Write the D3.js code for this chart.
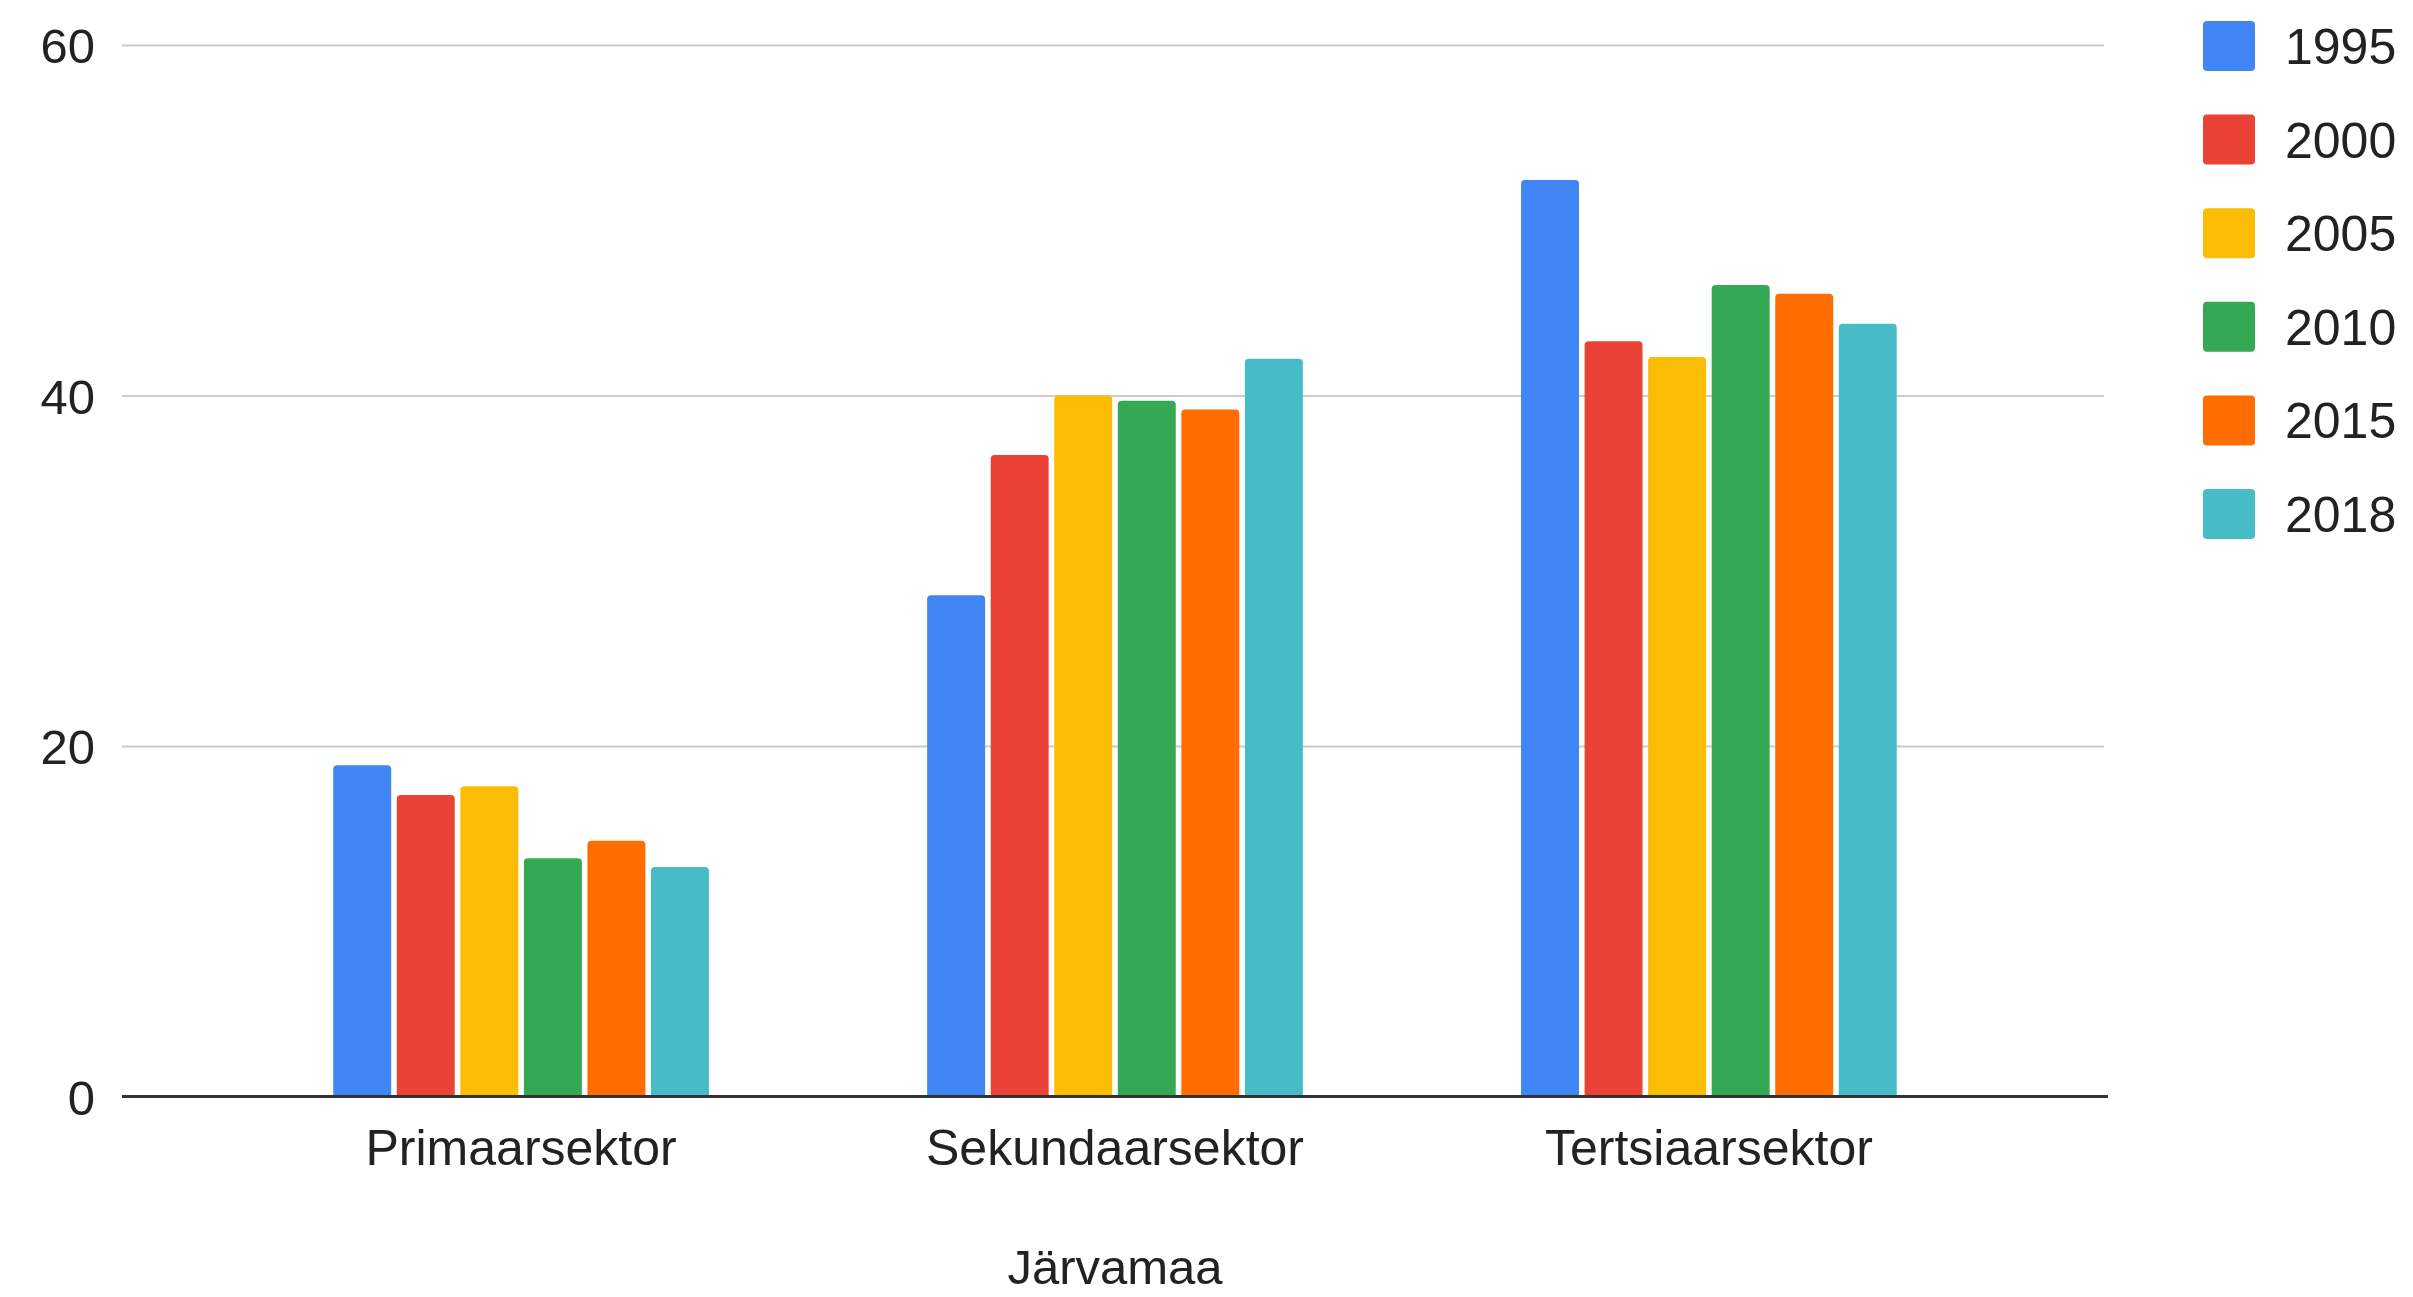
<!DOCTYPE html>
<html>
<head>
<meta charset="utf-8">
<script src="https://cdn.jsdelivr.net/npm/d3@7"></script>
<style>
  html, body { margin: 0; padding: 0; background: #fff; }
  svg { display: block; }
  text { font-family: "Liberation Sans", Arial, sans-serif; fill: #222; }
</style>
</head>
<body>
<svg id="chart"></svg>
<script>
// data
const sectors = ["Primaarsektor", "Sekundaarsektor", "Tertsiaarsektor"]
const years = ["1995", "2000", "2005", "2010", "2015", "2018"]
const v1995 = [18.9, 28.6, 52.3]
const v2000 = [17.2, 36.6, 43.1]
const v2005 = [17.7, 40.0, 42.2]
const v2010 = [13.6, 39.7, 46.3]
const v2015 = [14.6, 39.2, 45.8]
const v2018 = [13.1, 42.1, 44.1]
const yTicks = [0, 20, 40, 60]
const colors = ["#4285f4", "#ea4335", "#fbbc04", "#34a853", "#ff6d01", "#46bdc6"]
const axisTitle = "Järvamaa"

const series = [v1995, v2000, v2005, v2010, v2015, v2018]
const rows = []
sectors.forEach((s, i) => {
    years.forEach((yr, j) => rows.push({ sector: s, year: yr, value: series[j][i] }))
})

const width = 2413
const height = 1297
const margin = { left: 122, right: 305, top: 45, bottom: 200 }

const svg = d3.select("#chart")
    .attr("width", width)
    .attr("height", height)

const x0 = d3.scaleBand()
    .domain(sectors)
    .range([margin.left, width - margin.right])
    .paddingInner(0.358)
    .paddingOuter(0.351)

const x1 = d3.scaleBand()
    .domain(years)
    .range([0, x0.bandwidth()])
    .paddingInner(0.088)
    .paddingOuter(0.044)

const y = d3.scaleLinear()
    .domain([0, 60])
    .range([height - margin.bottom - 0.5, margin.top])

const color = d3.scaleOrdinal().domain(years).range(colors)

// gridlines + y labels
const yAxis = svg.append("g")
    .attr("transform", `translate(${margin.left},0)`)
    .call(d3.axisLeft(y).tickValues(yTicks).tickSize(-(width - margin.right - margin.left - 4)).tickPadding(27))
yAxis.select(".domain").remove()
yAxis.selectAll(".tick line").attr("stroke", "#cccccc").attr("stroke-width", 2)
yAxis.selectAll(".tick text")
    .style("font-size", "49px")
    .attr("fill", "#222")
    .attr("dy", "0.36em")

// bars with rounded tops
const r = 4
const barPath = d => {
    const x = x0(d.sector) + x1(d.year)
    const w = x1.bandwidth()
    const top = y(d.value)
    const bottom = y(0)
    return `M${x},${bottom}V${top + r}Q${x},${top} ${x + r},${top}H${x + w - r}Q${x + w},${top} ${x + w},${top + r}V${bottom}Z`
}

svg.append("g")
    .selectAll("path")
    .data(rows)
    .join("path")
    .attr("d", barPath)
    .attr("fill", d => color(d.year))

// baseline
svg.append("line")
    .attr("x1", margin.left)
    .attr("x2", width - margin.right)
    .attr("y1", y(0))
    .attr("y2", y(0))
    .attr("stroke", "#333")
    .attr("stroke-width", 3)

// category labels
const xAxis = svg.append("g")
    .attr("transform", `translate(0,${y(0)})`)
    .call(d3.axisBottom(x0).tickSize(0).tickPadding(0))
xAxis.select(".domain").remove()
xAxis.selectAll(".tick text")
    .style("font-size", "50px")
    .attr("fill", "#222")
    .attr("y", 68)
    .attr("dy", 0)

// axis title
svg.append("text")
    .attr("x", x0("Sekundaarsektor") + x0.bandwidth() / 2)
    .attr("y", 1284)
    .attr("text-anchor", "middle")
    .style("font-size", "49px")
    .text(axisTitle)

// legend
const legend = svg.append("g")
    .selectAll("g")
    .data(years)
    .join("g")
    .attr("transform", (d, i) => `translate(2203,${46 + i * 93.6})`)

legend.append("rect")
    .attr("x", 0)
    .attr("y", -25)
    .attr("width", 52)
    .attr("height", 50)
    .attr("rx", 4)
    .attr("fill", d => color(d))

legend.append("text")
    .attr("x", 82)
    .attr("y", 0)
    .attr("dy", "0.36em")
    .style("font-size", "50px")
    .text(d => d)
</script>
</body>
</html>
